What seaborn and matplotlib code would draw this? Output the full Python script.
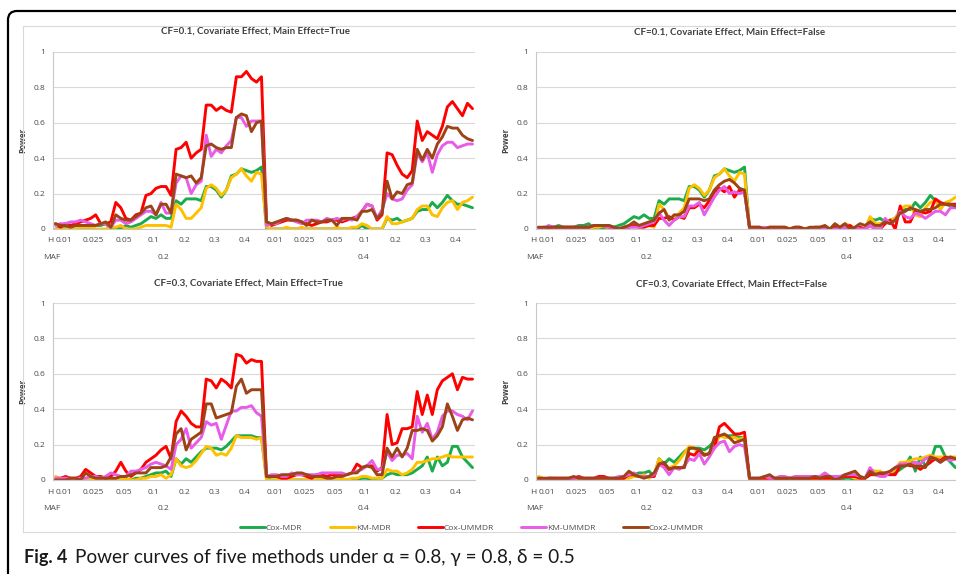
import matplotlib
matplotlib.use("Agg")
import matplotlib.pyplot as plt
import matplotlib.transforms as mtransforms
from matplotlib.patches import FancyBboxPatch, Rectangle
from matplotlib.lines import Line2D
import pandas as pd
import seaborn as sns

# ---------------------------------------------------------------- data
h_levels = ["0.01", "0.025", "0.05", "0.1", "0.2", "0.3", "0.4"]
maf_levels = ["0.2", "0.4"]
reps_per_h = 6
methods = ["Cox-MDR", "KM-MDR", "Cox-UMMDR", "KM-UMMDR", "Cox2-UMMDR"]
palette = {"Cox-MDR": "#1aab4b", "KM-MDR": "#ffc000", "Cox-UMMDR": "#ff0000",
           "KM-UMMDR": "#e85ce8", "Cox2-UMMDR": "#9c4416"}

# CF = 0.1 (MDR methods are identical with or without main effect)
cox_mdr_cf01 = [
    0.00, 0.01, 0.01, 0.01, 0.02, 0.01,  0.01, 0.01, 0.02, 0.02, 0.03, 0.00,
    0.01, 0.00, 0.02, 0.01, 0.02, 0.03,  0.05, 0.07, 0.06, 0.08, 0.06, 0.06,
    0.16, 0.14, 0.17, 0.17, 0.17, 0.16,  0.24, 0.24, 0.22, 0.18, 0.22, 0.30,
    0.31, 0.34, 0.33, 0.32, 0.33, 0.35,
    0.00, 0.00, 0.00, 0.00, 0.00, 0.00,  0.00, 0.00, 0.00, 0.00, 0.00, 0.00,
    0.00, 0.00, 0.00, 0.00, 0.00, 0.00,  0.00, 0.02, 0.00, 0.00, 0.00, 0.00,
    0.06, 0.05, 0.06, 0.04, 0.05, 0.06,  0.10, 0.11, 0.11, 0.15, 0.12, 0.15,
    0.19, 0.16, 0.14, 0.14, 0.13, 0.12]
km_mdr_cf01 = [
    0.00, 0.00, 0.00, 0.00, 0.00, 0.01,  0.01, 0.01, 0.00, 0.00, 0.00, 0.01,
    0.01, 0.02, 0.00, 0.00, 0.00, 0.01,  0.02, 0.02, 0.02, 0.02, 0.02, 0.01,
    0.14, 0.11, 0.06, 0.06, 0.09, 0.12,  0.23, 0.25, 0.23, 0.19, 0.22, 0.29,
    0.31, 0.34, 0.30, 0.27, 0.32, 0.31,
    0.01, 0.00, 0.00, 0.00, 0.01, 0.00,  0.00, 0.01, 0.00, 0.00, 0.00, 0.00,
    0.00, 0.00, 0.01, 0.00, 0.00, 0.01,  0.01, 0.03, 0.02, 0.00, 0.00, 0.00,
    0.07, 0.03, 0.03, 0.04, 0.05, 0.06,  0.11, 0.13, 0.13, 0.08, 0.07, 0.12,
    0.15, 0.16, 0.11, 0.15, 0.16, 0.18]
cox_ummdr_cf01_main = [
    0.03, 0.01, 0.03, 0.02, 0.03, 0.04,  0.05, 0.06, 0.08, 0.03, 0.03, 0.04,
    0.15, 0.12, 0.06, 0.05, 0.08, 0.09,  0.19, 0.20, 0.23, 0.24, 0.24, 0.19,
    0.45, 0.46, 0.49, 0.40, 0.43, 0.45,  0.70, 0.70, 0.67, 0.69, 0.67, 0.66,
    0.86, 0.86, 0.89, 0.85, 0.83, 0.86,
    0.04, 0.02, 0.03, 0.04, 0.05, 0.05,  0.05, 0.04, 0.03, 0.02, 0.03, 0.04,
    0.04, 0.05, 0.05, 0.04, 0.05, 0.06,  0.07, 0.10, 0.14, 0.13, 0.05, 0.08,
    0.43, 0.42, 0.36, 0.31, 0.29, 0.33,  0.61, 0.50, 0.55, 0.53, 0.51, 0.58,
    0.69, 0.72, 0.68, 0.64, 0.71, 0.68]
km_ummdr_cf01_main = [
    0.02, 0.03, 0.03, 0.04, 0.04, 0.05,  0.04, 0.03, 0.02, 0.03, 0.03, 0.01,
    0.05, 0.05, 0.03, 0.04, 0.06, 0.08,  0.10, 0.10, 0.08, 0.15, 0.09, 0.09,
    0.26, 0.30, 0.29, 0.20, 0.25, 0.27,  0.53, 0.41, 0.45, 0.43, 0.47, 0.50,
    0.63, 0.63, 0.58, 0.61, 0.61, 0.61,
    0.02, 0.03, 0.03, 0.05, 0.06, 0.05,  0.04, 0.03, 0.05, 0.05, 0.05, 0.04,
    0.06, 0.05, 0.06, 0.05, 0.06, 0.05,  0.07, 0.10, 0.14, 0.13, 0.06, 0.11,
    0.20, 0.17, 0.16, 0.17, 0.22, 0.25,  0.43, 0.38, 0.43, 0.32, 0.42, 0.47,
    0.49, 0.49, 0.46, 0.47, 0.48, 0.48]
cox2_ummdr_cf01_main = [
    0.03, 0.02, 0.02, 0.01, 0.02, 0.02,  0.02, 0.02, 0.02, 0.03, 0.04, 0.01,
    0.08, 0.06, 0.05, 0.05, 0.07, 0.09,  0.12, 0.13, 0.08, 0.14, 0.14, 0.09,
    0.31, 0.30, 0.29, 0.30, 0.26, 0.29,  0.47, 0.48, 0.46, 0.45, 0.46, 0.46,
    0.63, 0.65, 0.64, 0.55, 0.60, 0.61,
    0.04, 0.03, 0.04, 0.05, 0.06, 0.05,  0.05, 0.04, 0.02, 0.05, 0.04, 0.04,
    0.05, 0.05, 0.02, 0.06, 0.06, 0.06,  0.05, 0.10, 0.10, 0.11, 0.06, 0.09,
    0.27, 0.17, 0.21, 0.20, 0.25, 0.26,  0.45, 0.39, 0.45, 0.40, 0.48, 0.52,
    0.58, 0.57, 0.57, 0.53, 0.51, 0.50]
cox_ummdr_cf01_nomain = [
    0.01, 0.00, 0.01, 0.01, 0.01, 0.01,  0.01, 0.01, 0.01, 0.01, 0.01, 0.02,
    0.02, 0.02, 0.01, 0.01, 0.00, 0.01,  0.01, 0.02, 0.01, 0.01, 0.02, 0.02,
    0.06, 0.06, 0.07, 0.05, 0.07, 0.06,  0.12, 0.12, 0.14, 0.12, 0.16, 0.21,
    0.23, 0.21, 0.24, 0.18, 0.22, 0.21,
    0.01, 0.01, 0.01, 0.00, 0.01, 0.01,  0.01, 0.01, 0.00, 0.01, 0.01, 0.00,
    0.00, 0.01, 0.01, 0.01, 0.00, 0.01,  0.00, 0.01, 0.02, 0.00, 0.01, 0.00,
    0.02, 0.00, 0.00, 0.03, 0.05, 0.00,  0.13, 0.04, 0.04, 0.10, 0.10, 0.09,
    0.10, 0.17, 0.15, 0.14, 0.14, 0.14]
km_ummdr_cf01_nomain = [
    0.00, 0.00, 0.02, 0.01, 0.01, 0.01,  0.01, 0.01, 0.01, 0.01, 0.01, 0.02,
    0.02, 0.02, 0.01, 0.01, 0.00, 0.01,  0.01, 0.01, 0.01, 0.02, 0.03, 0.04,
    0.09, 0.05, 0.02, 0.05, 0.07, 0.07,  0.13, 0.13, 0.15, 0.08, 0.13, 0.18,
    0.22, 0.24, 0.20, 0.21, 0.20, 0.21,
    0.01, 0.00, 0.00, 0.01, 0.00, 0.00,  0.00, 0.00, 0.00, 0.00, 0.00, 0.00,
    0.00, 0.00, 0.00, 0.00, 0.00, 0.00,  0.00, 0.01, 0.00, 0.01, 0.00, 0.00,
    0.02, 0.00, 0.00, 0.06, 0.03, 0.05,  0.10, 0.07, 0.06, 0.09, 0.08, 0.06,
    0.08, 0.10, 0.10, 0.08, 0.12, 0.12]
cox2_ummdr_cf01_nomain = [
    0.01, 0.01, 0.01, 0.01, 0.01, 0.01,  0.01, 0.01, 0.01, 0.01, 0.01, 0.02,
    0.02, 0.02, 0.02, 0.01, 0.00, 0.01,  0.02, 0.04, 0.02, 0.03, 0.04, 0.05,
    0.09, 0.11, 0.05, 0.08, 0.08, 0.10,  0.17, 0.17, 0.17, 0.16, 0.17, 0.22,
    0.25, 0.27, 0.28, 0.26, 0.23, 0.22,
    0.01, 0.01, 0.01, 0.00, 0.01, 0.01,  0.01, 0.01, 0.00, 0.01, 0.01, 0.00,
    0.01, 0.01, 0.01, 0.02, 0.00, 0.03,  0.01, 0.03, 0.00, 0.01, 0.03, 0.02,
    0.04, 0.02, 0.02, 0.04, 0.03, 0.05,  0.09, 0.10, 0.12, 0.11, 0.10, 0.11,
    0.11, 0.12, 0.14, 0.14, 0.14, 0.13]

# CF = 0.3
cox_mdr_cf03 = [
    0.00, 0.00, 0.00, 0.00, 0.00, 0.00,  0.00, 0.00, 0.00, 0.00, 0.00, 0.00,
    0.00, 0.00, 0.00, 0.00, 0.01, 0.01,  0.02, 0.03, 0.04, 0.04, 0.05, 0.02,
    0.12, 0.09, 0.12, 0.10, 0.13, 0.16,  0.18, 0.18, 0.18, 0.17, 0.19, 0.22,
    0.25, 0.25, 0.25, 0.25, 0.24, 0.24,
    0.01, 0.00, 0.00, 0.00, 0.00, 0.00,  0.00, 0.00, 0.00, 0.00, 0.00, 0.00,
    0.00, 0.00, 0.00, 0.00, 0.00, 0.00,  0.00, 0.01, 0.01, 0.00, 0.01, 0.01,
    0.03, 0.04, 0.03, 0.03, 0.03, 0.04,  0.06, 0.08, 0.13, 0.05, 0.13, 0.08,
    0.10, 0.19, 0.19, 0.13, 0.10, 0.07]
km_mdr_cf03 = [
    0.02, 0.01, 0.01, 0.01, 0.00, 0.00,  0.00, 0.00, 0.00, 0.00, 0.00, 0.00,
    0.00, 0.00, 0.01, 0.00, 0.00, 0.01,  0.01, 0.02, 0.02, 0.03, 0.01, 0.03,
    0.12, 0.08, 0.07, 0.08, 0.11, 0.15,  0.19, 0.18, 0.14, 0.15, 0.14, 0.18,
    0.25, 0.24, 0.24, 0.24, 0.23, 0.24,
    0.00, 0.00, 0.00, 0.00, 0.00, 0.00,  0.00, 0.00, 0.00, 0.00, 0.00, 0.01,
    0.00, 0.00, 0.00, 0.01, 0.00, 0.01,  0.01, 0.02, 0.02, 0.01, 0.01, 0.01,
    0.06, 0.05, 0.05, 0.03, 0.04, 0.06,  0.10, 0.10, 0.11, 0.12, 0.12, 0.13,
    0.14, 0.13, 0.13, 0.13, 0.13, 0.13]
cox_ummdr_cf03_main = [
    0.00, 0.01, 0.02, 0.01, 0.01, 0.02,  0.06, 0.04, 0.02, 0.02, 0.01, 0.02,
    0.05, 0.10, 0.05, 0.02, 0.04, 0.06,  0.10, 0.12, 0.14, 0.17, 0.19, 0.12,
    0.33, 0.39, 0.36, 0.32, 0.30, 0.30,  0.57, 0.56, 0.52, 0.57, 0.55, 0.52,
    0.71, 0.70, 0.66, 0.68, 0.67, 0.67,
    0.02, 0.02, 0.02, 0.01, 0.01, 0.02,  0.03, 0.03, 0.02, 0.01, 0.03, 0.03,
    0.02, 0.03, 0.03, 0.03, 0.03, 0.04,  0.09, 0.07, 0.08, 0.08, 0.05, 0.07,
    0.37, 0.20, 0.21, 0.29, 0.29, 0.30,  0.50, 0.37, 0.48, 0.37, 0.51, 0.56,
    0.58, 0.60, 0.51, 0.58, 0.57, 0.57]
km_ummdr_cf03_main = [
    0.01, 0.01, 0.01, 0.01, 0.01, 0.01,  0.01, 0.02, 0.02, 0.01, 0.02, 0.04,
    0.03, 0.02, 0.02, 0.05, 0.05, 0.06,  0.07, 0.09, 0.10, 0.09, 0.08, 0.06,
    0.20, 0.23, 0.29, 0.18, 0.21, 0.24,  0.33, 0.31, 0.32, 0.23, 0.31, 0.39,
    0.39, 0.41, 0.41, 0.42, 0.38, 0.36,
    0.02, 0.03, 0.03, 0.02, 0.02, 0.04,  0.03, 0.03, 0.03, 0.03, 0.03, 0.04,
    0.04, 0.04, 0.04, 0.04, 0.03, 0.04,  0.05, 0.06, 0.08, 0.11, 0.06, 0.06,
    0.16, 0.11, 0.14, 0.14, 0.15, 0.12,  0.36, 0.27, 0.32, 0.23, 0.27, 0.36,
    0.39, 0.39, 0.37, 0.36, 0.34, 0.39]
cox2_ummdr_cf03_main = [
    0.00, 0.00, 0.00, 0.01, 0.01, 0.00,  0.04, 0.02, 0.01, 0.01, 0.01, 0.01,
    0.01, 0.02, 0.02, 0.03, 0.04, 0.04,  0.04, 0.07, 0.07, 0.07, 0.08, 0.13,
    0.26, 0.29, 0.17, 0.23, 0.25, 0.27,  0.43, 0.43, 0.35, 0.36, 0.37, 0.38,
    0.53, 0.57, 0.49, 0.51, 0.51, 0.51,
    0.02, 0.02, 0.02, 0.03, 0.03, 0.03,  0.04, 0.04, 0.03, 0.02, 0.02, 0.02,
    0.01, 0.01, 0.02, 0.02, 0.03, 0.04,  0.04, 0.07, 0.08, 0.07, 0.03, 0.03,
    0.18, 0.13, 0.18, 0.13, 0.18, 0.28,  0.28, 0.29, 0.28, 0.22, 0.25, 0.30,
    0.43, 0.36, 0.28, 0.34, 0.35, 0.34]
cox_ummdr_cf03_nomain = [
    0.01, 0.00, 0.01, 0.01, 0.01, 0.01,  0.01, 0.01, 0.02, 0.01, 0.01, 0.01,
    0.02, 0.02, 0.01, 0.01, 0.01, 0.01,  0.03, 0.03, 0.02, 0.02, 0.02, 0.02,
    0.09, 0.09, 0.06, 0.07, 0.07, 0.07,  0.15, 0.14, 0.17, 0.14, 0.15, 0.18,
    0.30, 0.32, 0.29, 0.26, 0.26, 0.27,
    0.01, 0.01, 0.01, 0.01, 0.01, 0.01,  0.01, 0.01, 0.01, 0.01, 0.01, 0.01,
    0.01, 0.01, 0.01, 0.01, 0.01, 0.01,  0.01, 0.02, 0.02, 0.02, 0.01, 0.01,
    0.03, 0.03, 0.03, 0.04, 0.03, 0.03,  0.08, 0.09, 0.08, 0.08, 0.06, 0.08,
    0.10, 0.12, 0.11, 0.13, 0.12, 0.12]
km_ummdr_cf03_nomain = [
    0.01, 0.00, 0.01, 0.01, 0.01, 0.01,  0.01, 0.01, 0.01, 0.01, 0.01, 0.01,
    0.01, 0.01, 0.01, 0.01, 0.02, 0.02,  0.03, 0.04, 0.02, 0.02, 0.02, 0.03,
    0.09, 0.07, 0.03, 0.07, 0.06, 0.08,  0.12, 0.11, 0.15, 0.09, 0.13, 0.18,
    0.21, 0.22, 0.16, 0.19, 0.20, 0.19,
    0.01, 0.01, 0.01, 0.02, 0.01, 0.01,  0.02, 0.02, 0.01, 0.02, 0.02, 0.02,
    0.02, 0.02, 0.02, 0.04, 0.02, 0.02,  0.02, 0.03, 0.03, 0.03, 0.02, 0.01,
    0.07, 0.03, 0.02, 0.02, 0.05, 0.07,  0.09, 0.09, 0.09, 0.10, 0.09, 0.12,
    0.13, 0.12, 0.10, 0.12, 0.11, 0.12]
cox2_ummdr_cf03_nomain = [
    0.01, 0.01, 0.01, 0.01, 0.01, 0.01,  0.01, 0.02, 0.01, 0.01, 0.01, 0.01,
    0.01, 0.01, 0.01, 0.01, 0.01, 0.02,  0.05, 0.03, 0.02, 0.01, 0.02, 0.04,
    0.09, 0.10, 0.06, 0.07, 0.07, 0.07,  0.18, 0.18, 0.17, 0.14, 0.15, 0.24,
    0.25, 0.26, 0.24, 0.21, 0.22, 0.23,
    0.01, 0.01, 0.01, 0.02, 0.03, 0.01,  0.01, 0.01, 0.01, 0.01, 0.01, 0.01,
    0.01, 0.02, 0.01, 0.02, 0.02, 0.00,  0.01, 0.03, 0.04, 0.05, 0.02, 0.01,
    0.05, 0.03, 0.04, 0.04, 0.05, 0.07,  0.08, 0.08, 0.09, 0.07, 0.08, 0.07,
    0.13, 0.12, 0.10, 0.12, 0.13, 0.12]

panels = [
    ("CF=0.1, Covariate Effect, Main Effect=True",
     [cox_mdr_cf01, km_mdr_cf01, cox_ummdr_cf01_main, km_ummdr_cf01_main, cox2_ummdr_cf01_main]),
    ("CF=0.1, Covariate Effect, Main Effect=False",
     [cox_mdr_cf01, km_mdr_cf01, cox_ummdr_cf01_nomain, km_ummdr_cf01_nomain, cox2_ummdr_cf01_nomain]),
    ("CF=0.3, Covariate Effect, Main Effect=True",
     [cox_mdr_cf03, km_mdr_cf03, cox_ummdr_cf03_main, km_ummdr_cf03_main, cox2_ummdr_cf03_main]),
    ("CF=0.3, Covariate Effect, Main Effect=False",
     [cox_mdr_cf03, km_mdr_cf03, cox_ummdr_cf03_nomain, km_ummdr_cf03_nomain, cox2_ummdr_cf03_nomain]),
]

# ---------------------------------------------------------------- style
sns.set_theme(style="white")
plt.rcParams["font.family"] = ["Open Sans", "DejaVu Sans"]

TICK_COL = "#4a4a4a"
GRID_COL = "#d9d9d9"
TICK_FS = 6.0
TITLE_FAMILY = ["Lato", "DejaVu Sans"]
W, H = 956, 574

fig = plt.figure(figsize=(W / 100, H / 100), dpi=100)
fig.patch.set_facecolor("white")

# panel boxes in pixels: left, top, right, bottom
boxes = [(53, 52, 475, 229), (536, 52, 958, 229),
         (53, 303, 475, 480), (536, 303, 958, 480)]
title_pos = [(256, 31), (730, 32), (248, 283), (731, 284)]

n_points = len(h_levels) * len(maf_levels) * reps_per_h

for (title, series), (l, t, r, b), (tx, ty) in zip(panels, boxes, title_pos):
    ax = fig.add_axes([l / W, 1 - b / H, (r - l) / W, (b - t) / H])
    df = pd.concat([pd.DataFrame({"x": range(n_points), "power": vals, "method": m})
                    for m, vals in zip(methods, series)], ignore_index=True)
    sns.lineplot(data=df, x="x", y="power", hue="method", hue_order=methods,
                 palette=palette, linewidth=2.1, errorbar=None, legend=False,
                 ax=ax)
    ax.set_xlim(-0.5, n_points - 0.5)
    ax.set_ylim(0, 1)
    ax.set_yticks([0, 0.2, 0.4, 0.6, 0.8, 1.0])
    ax.set_yticklabels(["0", "0.2", "0.4", "0.6", "0.8", "1"])
    ax.tick_params(axis="y", length=0, pad=5.5, labelsize=TICK_FS, labelcolor=TICK_COL)
    ax.set_xticks([])
    ax.set_xlabel("")
    ax.grid(axis="y", color=GRID_COL, linewidth=0.8)
    ax.set_axisbelow(True)
    for side in ["top", "right"]:
        ax.spines[side].set_visible(False)
    for side in ["left", "bottom"]:
        ax.spines[side].set_color("#c8c8c8")
        ax.spines[side].set_linewidth(0.8)
    ax.set_ylabel("Power", fontsize=5.8, fontweight="bold", color="#404040")
    ax.yaxis.set_label_coords(-26 / (r - l), 0.5)

    # two-level category axis: H inside MAF
    trans = mtransforms.blended_transform_factory(ax.transData, ax.transAxes)
    row1 = -12 / (b - t)
    row2 = -29 / (b - t)
    for g in range(len(h_levels) * len(maf_levels)):
        ax.text(g * reps_per_h + 1.6, row1, h_levels[g % len(h_levels)],
                transform=trans, ha="center", va="center", fontsize=TICK_FS,
                color=TICK_COL, clip_on=False)
    ax.text(-1.0, row1, "H", transform=trans, ha="center", va="center",
            fontsize=TICK_FS, color=TICK_COL)
    ax.text(-0.7, row2, "MAF", transform=trans, ha="center", va="center",
            fontsize=TICK_FS, color=TICK_COL)
    for pos, lab in zip([21.5, 61.3], maf_levels):
        ax.text(pos, row2, lab, transform=trans, ha="center", va="center",
                fontsize=TICK_FS, color=TICK_COL)

    fig.text(tx / W, 1 - ty / H, title, ha="center", va="center",
             fontsize=7.0, fontweight="bold", color="#404040", family=TITLE_FAMILY)

# shared legend
handles = [Line2D([], [], color=palette[m], linewidth=2.1) for m in methods]
leg = fig.legend(handles, methods, loc="center", bbox_to_anchor=(472 / W, 1 - 528 / H),
                 ncol=5, frameon=False, fontsize=6.0, handlelength=3.0,
                 handletextpad=0.1, columnspacing=3.3)
for txt in leg.get_texts():
    txt.set_color(TICK_COL)

# chart area border and outer rounded frame
fig.add_artist(Rectangle((23 / W, 1 - 532 / H), 1.2, (532 - 26) / H,
                         transform=fig.transFigure, fill=False,
                         edgecolor=GRID_COL, linewidth=0.8))
fig.add_artist(FancyBboxPatch((8, -30), 1100, H - 11 + 30,
                              boxstyle="round,pad=0,rounding_size=9",
                              transform=mtransforms.IdentityTransform(),
                              fill=False, edgecolor="black", linewidth=1.6))

# caption
fig.canvas.draw()
cap_y = 1 - 557 / H
cap_family = ["Lato", "DejaVu Sans"]
fig_lab = fig.text(24 / W, cap_y, "Fig. 4", fontsize=13.0, fontweight="bold",
                   family=cap_family, color="#1a1a1a", va="center")
renderer = fig.canvas.get_renderer()
bb = fig_lab.get_window_extent(renderer)
fig.text((bb.x1 + 8) / W, cap_y,
         "Power curves of five methods under α = 0.8, γ = 0.8, δ = 0.5",
         fontsize=13.7, family=cap_family, color="#1a1a1a", va="center")

fig.savefig("out.png", dpi=100, facecolor="white")
